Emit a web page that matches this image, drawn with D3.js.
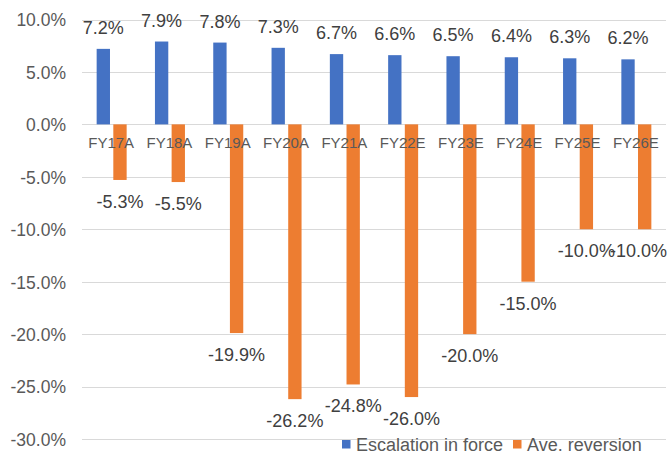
<!DOCTYPE html>
<html>
<head>
<meta charset="utf-8">
<script src="https://cdn.jsdelivr.net/npm/d3@7"></script>
<style>
  html, body { margin: 0; padding: 0; background: #fff; }
  svg { display: block; font-family: "Liberation Sans", Arial, sans-serif; }
</style>
</head>
<body>
<svg id="chart" width="668" height="455"></svg>
<script>
// Fiscal years on the category axis
const categories = ["FY17A", "FY18A", "FY19A", "FY20A", "FY21A", "FY22E", "FY23E", "FY24E", "FY25E", "FY26E"];
// Series values, in percent
const escalation = [7.2, 7.9, 7.8, 7.3, 6.7, 6.6, 6.5, 6.4, 6.3, 6.2];
const reversion = [-5.3, -5.5, -19.9, -26.2, -24.8, -26.0, -20.0, -15.0, -10.0, -10.0];
const seriesNames = ["Escalation in force", "Ave. reversion"];
const seriesColors = ["#4472C4", "#ED7D31"];
const yTicks = [10, 5, 0, -5, -10, -15, -20, -25, -30];

const svg = d3.select("#chart");
const width = 668;
const plotLeft = 82, plotRight = 665, plotTop = 19.5, plotBottom = 439;

const y = d3.scaleLinear().domain([-30, 10]).range([plotBottom, plotTop]);
const x0 = d3.scaleBand().domain(categories).range([plotLeft, plotRight]).padding(0);
const x1 = d3.scaleBand().domain(seriesNames)
  .range([x0.bandwidth() / 2 - 14.5, x0.bandwidth() / 2 + 15.5]).paddingInner(0.2);

const fmt = v => v.toFixed(1) + "%";

// Gridlines
svg.append("g").selectAll("line").data(yTicks).join("line")
  .attr("x1", plotLeft).attr("x2", plotRight + 1)
  .attr("y1", d => Math.round(y(d)) + 0.5).attr("y2", d => Math.round(y(d)) + 0.5)
  .attr("stroke", "#d9d9d9").attr("stroke-width", 1);

// Value axis labels
const yAxis = d3.axisLeft(y).tickValues(yTicks).tickFormat(fmt).tickSize(0).tickPadding(0);
const yg = svg.append("g").attr("transform", `translate(66,0)`).call(yAxis);
yg.select(".domain").remove();
yg.selectAll("text").attr("fill", "#595959").attr("font-size", "17.5px")
  .attr("font-family", "Liberation Sans, Arial, sans-serif").attr("dy", "0.36em");

const rows = categories.map((c, i) => ({ cat: c, vals: [escalation[i], reversion[i]] }));

// Bars
const groups = svg.append("g").selectAll("g").data(rows).join("g")
  .attr("transform", d => `translate(${x0(d.cat)},0)`);
groups.selectAll("rect").data(d => d.vals.map((v, k) => ({ v, k })))
  .join("rect")
  .attr("x", d => x1(seriesNames[d.k]))
  .attr("width", x1.bandwidth())
  .attr("y", d => y(Math.max(0, d.v)))
  .attr("height", d => Math.abs(y(d.v) - y(0)))
  .attr("fill", d => seriesColors[d.k]);

// Category labels just below the zero line, drawn over the bars
svg.append("g").selectAll("text").data(categories).join("text")
  .attr("x", d => x0(d) + x0.bandwidth() / 2)
  .attr("y", y(0) + 23.5)
  .attr("text-anchor", "middle")
  .attr("fill", "#595959").attr("font-size", "15px")
  .text(d => d);

// Data labels, kept inside the right edge of the chart
const labels = groups.selectAll("text.val").data(d => d.vals.map((v, k) => ({ v, k, cat: d.cat })))
  .join("text").attr("class", "val")
  .attr("y", d => d.v >= 0 ? y(d.v) - 15 : y(d.v) + 28)
  .attr("text-anchor", "middle")
  .attr("fill", "#404040").attr("font-size", "18px")
  .text(d => fmt(d.v));
labels.each(function (d) {
  const w = this.getComputedTextLength();
  const cx = x1(seriesNames[d.k]) + x1.bandwidth() / 2;
  const maxCx = width - 1 - x0(d.cat) - w / 2;
  d3.select(this).attr("x", Math.min(cx, maxCx));
});

// Legend
const legend = svg.append("g");
const legendItems = [{ x: 342, tx: 356 }, { x: 513, tx: 527 }];
seriesNames.forEach((name, k) => {
  legend.append("rect").attr("x", legendItems[k].x).attr("y", 440)
    .attr("width", 8.5).attr("height", 8.5).attr("fill", seriesColors[k]);
  legend.append("text").attr("x", legendItems[k].tx).attr("y", 451)
    .attr("fill", "#595959").attr("font-size", "18px").text(name);
});
</script>
</body>
</html>
